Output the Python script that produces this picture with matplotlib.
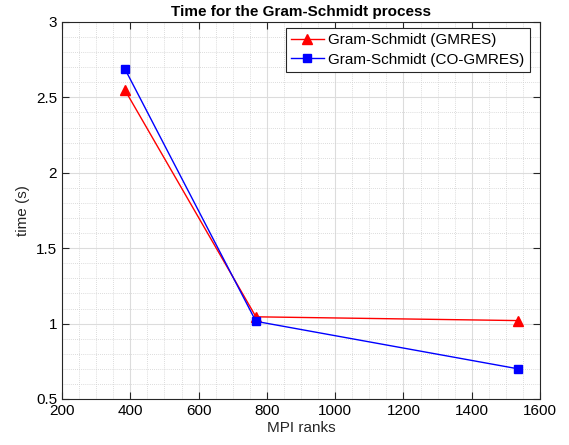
import matplotlib
matplotlib.use("Agg")
import matplotlib.pyplot as plt
from matplotlib.ticker import MultipleLocator

plt.rcParams['font.family'] = ['Liberation Sans', 'DejaVu Sans']

ranks = [384, 768, 1536]
gmres = [2.55, 1.045, 1.02]
cogmres = [2.69, 1.015, 0.70]

fig = plt.figure(figsize=(5.69, 4.45), dpi=100)
ax = fig.add_axes([62/569, 1-399/445, (540-62)/569, (399-22)/445])

ax.plot(ranks, gmres, color='red', marker='^', markersize=7, linewidth=1, label='Gram-Schmidt (GMRES)')
ax.plot(ranks, cogmres, color='blue', marker='s', markersize=6, linewidth=1, label='Gram-Schmidt (CO-GMRES)')

ax.set_xlim(200, 1600)
ax.set_ylim(0.5, 3)
ax.xaxis.set_major_locator(MultipleLocator(200))
ax.xaxis.set_minor_locator(MultipleLocator(50))
ax.yaxis.set_major_locator(MultipleLocator(0.5))
ax.yaxis.set_minor_locator(MultipleLocator(0.1))
ax.yaxis.set_major_formatter(matplotlib.ticker.FuncFormatter(lambda v, p: f"{v:g}"))
ax.grid(which='major', color='#dcdcdc', linewidth=0.8, linestyle='-')
ax.grid(which='minor', color='#d0d0d0', linewidth=0.6, linestyle=(0, (1, 1.5)))
ax.set_axisbelow(True)
ax.tick_params(which='both', direction='in', top=True, right=True, labelsize=11, color='#262626')
ax.tick_params(which='minor', length=0)
ax.tick_params(which='major', length=5)
for s in ax.spines.values():
    s.set_color('#262626')
    s.set_linewidth(0.8)

ax.set_xlabel('MPI ranks', fontsize=11, color='#262626', labelpad=2)
ax.set_ylabel('time (s)', fontsize=11, color='#262626')
ax.set_title('Time for the Gram-Schmidt process', fontsize=11, fontweight='bold', pad=4)

leg = ax.legend(loc='upper right', bbox_to_anchor=(530/569, 1-28/445),
                bbox_transform=fig.transFigure, borderaxespad=0,
                fontsize=11, fancybox=False, framealpha=1,
                edgecolor='#262626', handlelength=2.15,
                borderpad=0.35, labelspacing=0.35, handletextpad=0.3)
leg.get_frame().set_linewidth(0.8)

fig.savefig('out.png', dpi=100)
